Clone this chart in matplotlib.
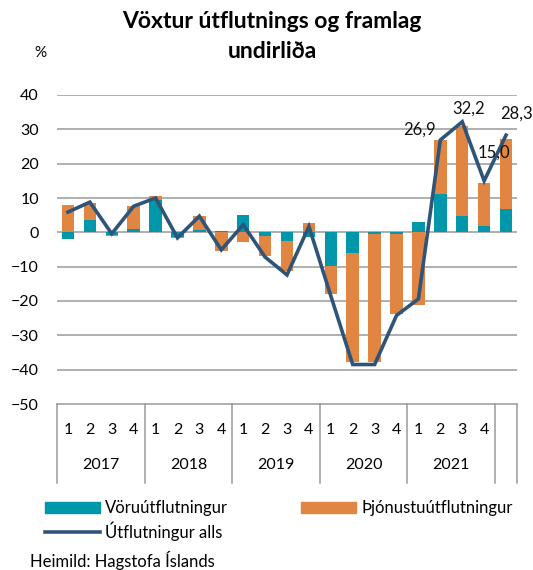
import numpy as np
import matplotlib.pyplot as plt
import matplotlib.transforms as mtransforms
from matplotlib.patches import Patch
from matplotlib.lines import Line2D

plt.rcParams['font.family'] = ['Lato', 'DejaVu Sans']

# data, quarterly 2017Q1 - 2022Q1
years = ['2017', '2018', '2019', '2020', '2021']
quarters = ['1', '2', '3', '4']
goods = [-1.8, 3.6, -0.7, 0.9, 9.3, -1.3, 0.7, 0.4, 5.0, -1.2, -2.4, -1.5,
         -9.9, -6.0, -0.6, -0.6, 2.9, 11.2, 4.7, 1.7, 6.8]
services = [8.0, 4.9, -0.3, 6.7, 1.2, -0.3, 4.0, -5.3, -2.8, -5.8, -8.9, 2.7,
            -8.0, -31.8, -37.1, -23.3, -21.3, 15.6, 26.3, 12.7, 20.3]
total = [5.9, 8.8, -0.4, 7.6, 10.0, -1.6, 4.7, -5.1, 2.2, -7.2, -12.4, 1.7,
         -18.5, -38.5, -38.5, -24.2, -19.4, 26.9, 32.2, 15.0, 28.3]
labelled = {17: (-21, 10), 18: (6, 13), 19: (10, 28), 20: (10, 22)}

teal = '#0097AB'
orange = '#E08542'
navy = '#2E5579'
grid_col = '#9A9A9A'

x = np.arange(len(goods))
g = np.array(goods)
s = np.array(services)
base_s = np.where(s >= 0, np.maximum(g, 0), np.minimum(g, 0))

fig = plt.figure(figsize=(5.33, 5.7), dpi=100)
ax = fig.add_axes([57/533, 1-404/570, 460/533, 309/570])

ax.bar(x, g, width=0.57, color=teal, zorder=2)
ax.bar(x, s, bottom=base_s, width=0.57, color=orange, zorder=2)
ax.plot(x, total, color=navy, lw=2.6, zorder=3, solid_joinstyle='miter')

for i, (dx, dy) in labelled.items():
    ax.annotate(f'{total[i]:.1f}'.replace('.', ','), (x[i], total[i]),
                xytext=(dx*0.72, dy*0.72), textcoords='offset points',
                ha='center', va='center', fontsize=12, color='#111111', zorder=4)

ax.set_ylim(-50, 40)
ax.set_xlim(-0.5, len(goods) - 0.5)
ax.set_yticks(range(-50, 41, 10))
for v in range(-40, 41, 10):
    ax.axhline(v, color=grid_col, lw=1.1, zorder=1)
ax.tick_params(axis='y', length=0, pad=13, labelsize=11.5)
ax.set_xticks([])
for sp in ['top', 'right', 'left']:
    ax.spines[sp].set_visible(False)
ax.spines['bottom'].set_color(grid_col)
ax.spines['bottom'].set_linewidth(1.1)

# two-level category axis
trans = mtransforms.blended_transform_factory(ax.transData, ax.transAxes)
for k in range(len(goods)):
    yi = k // 4
    if yi < len(years):
        ax.text(k, -0.084, quarters[k % 4], transform=trans, ha='center',
                va='center', fontsize=11.5)
for yi, yr in enumerate(years):
    ax.text(yi*4 + 1.5, -0.197, yr, transform=trans, ha='center',
            va='center', fontsize=11.5)
for b in [-0.5, 3.5, 7.5, 11.5, 15.5, 19.5, 20.5]:
    ax.plot([b, b], [0, -0.256], transform=trans, color=grid_col, lw=1.1,
            clip_on=False)

fig.text(272/533, 1-22/570, 'Vöxtur útflutnings og framlag', ha='center',
         va='center', fontsize=16.5, fontweight='bold')
fig.text(272/533, 1-51/570, 'undirliða', ha='center', va='center',
         fontsize=16.5, fontweight='bold')
fig.text(40/533, 1-53/570, '%', ha='center', va='center', fontsize=11)

h_goods = Patch(color=teal, label='Vöruútflutningur')
h_serv = Patch(color=orange, label='Þjónustuútflutningur')
h_tot = Line2D([], [], color=navy, lw=2.6, label='Útflutningur alls')
leg1 = fig.legend(handles=[h_goods, h_tot], loc='upper left',
                  bbox_to_anchor=(37/533, 1-492/570), frameon=False,
                  fontsize=12, handlelength=3.3, handleheight=0.7,
                  handletextpad=0.3, labelspacing=0.3, borderpad=0)
leg2 = fig.legend(handles=[h_serv], loc='upper left',
                  bbox_to_anchor=(293/533, 1-492/570), frameon=False,
                  fontsize=12, handlelength=3.3, handleheight=0.7,
                  handletextpad=0.3, borderpad=0)

fig.text(30/533, 1-560/570, 'Heimild: Hagstofa Íslands', ha='left',
         va='center', fontsize=12)

fig.savefig('out.png', dpi=100)
